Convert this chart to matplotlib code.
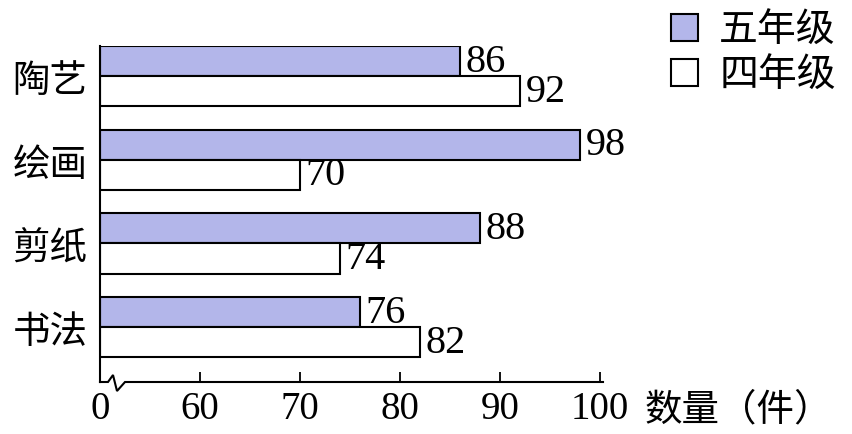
import matplotlib
matplotlib.use("Agg")
import matplotlib.pyplot as plt
from matplotlib.patches import Patch
import numpy as np

# data
categories = ["陶艺", "绘画", "剪纸", "书法"]
grade5 = [86, 98, 88, 76]
grade4 = [92, 70, 74, 82]
series_names = ["五年级", "四年级"]
tick_values = [50, 60, 70, 80, 90, 100]
tick_labels = ["0", "60", "70", "80", "90", "100"]
axis_label = "数量（件）"

NUM_FONT = ["Liberation Serif", "Noto Sans CJK SC"]
CJK_FONT = ["Noto Sans CJK SC", "DejaVu Sans"]
BLUE = "#b3b6ea"
base = tick_values[0]  # broken axis: bars start at the "0" position

fig = plt.figure(figsize=(8.52, 4.35), dpi=100)
ax = fig.add_axes([100 / 852, 1 - 383 / 435, 500 / 852, (383 - 47) / 435])

y = np.arange(len(categories))
h = 0.36
w5 = [v - base for v in grade5]
w4 = [v - base for v in grade4]
b5 = ax.barh(y - h / 2, w5, height=h, left=base, color=BLUE,
             edgecolor="black", linewidth=1.5)
b4 = ax.barh(y + h / 2, w4, height=h, left=base, color="white",
             edgecolor="black", linewidth=1.5)

for bars, vals in [(b5, grade5), (b4, grade4)]:
    ax.bar_label(bars, labels=[str(v) for v in vals], padding=4,
                 fontsize=29, family=NUM_FONT)

ax.set_xlim(base, 100)
ax.set_ylim(3.655, -h)

ax.set_xticks(tick_values)
ax.set_xticklabels(tick_labels, fontsize=28, family=NUM_FONT)
ax.tick_params(axis="x", direction="in", length=7, width=1.3, pad=6)

ax.set_yticks(y)
ax.set_yticklabels(categories, fontsize=27, family=CJK_FONT)
ax.tick_params(axis="y", length=0, pad=9)

for s in ["top", "right", "bottom"]:
    ax.spines[s].set_visible(False)
ax.spines["left"].set_linewidth(1.5)

# bottom axis line with a break zigzag near the origin
tr = ax.get_xaxis_transform()
unit = 50 / 500  # data units per pixel
bx = [base, base + 8 * unit, base + 13 * unit, base + 17 * unit,
      base + 25 * unit, 100 + 3 * unit]
by = [0, 0, 7 / 336, -9 / 336, 0, 0]
ax.plot(bx, by, color="black", lw=1.5, transform=tr, clip_on=False,
        solid_joinstyle="miter")

ax.text(1.09, -0.08, axis_label, transform=ax.transAxes, fontsize=27,
        family=CJK_FONT, va="center", ha="left")

handles = [Patch(facecolor=BLUE, edgecolor="black", linewidth=1.5),
           Patch(facecolor="white", edgecolor="black", linewidth=1.5)]
fig.legend(handles, series_names, loc="upper right",
           bbox_to_anchor=(1.022, 1.055), frameon=False,
           prop={"family": CJK_FONT, "size": 28},
           handlelength=0.7, handleheight=0.7, handletextpad=0.55,
           labelspacing=0.12)

fig.savefig("out.png", dpi=100)
